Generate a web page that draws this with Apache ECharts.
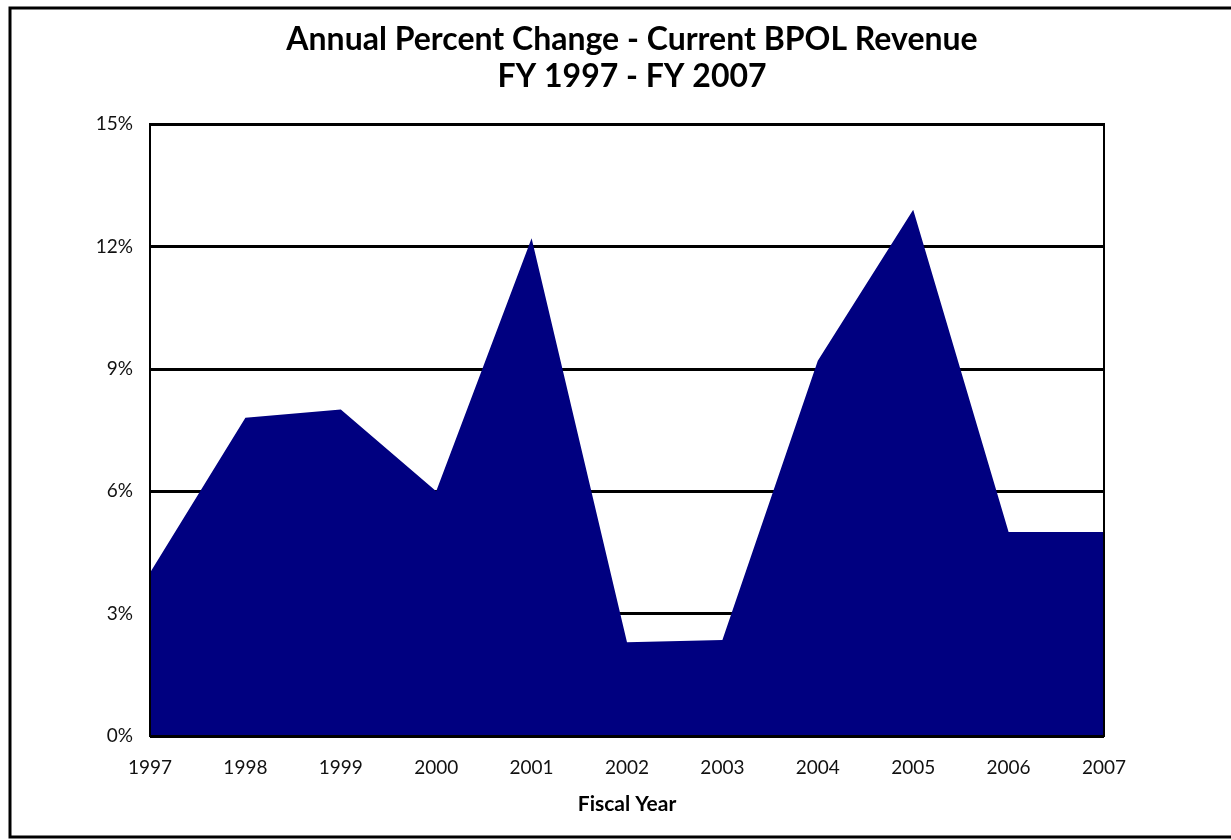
<!DOCTYPE html>
<html>
<head>
<meta charset="utf-8">
<script src="https://cdn.jsdelivr.net/npm/echarts@6/dist/echarts.min.js"></script>
<style>
  html, body { margin: 0; padding: 0; background: #fff; }
  #chart { width: 1231px; height: 840px; }
</style>
</head>
<body>
<div id="chart"></div>
<script>
var years = ['1997', '1998', '1999', '2000', '2001', '2002', '2003', '2004', '2005', '2006', '2007'];
var pctChange = [4.0, 7.8, 8.0, 6.0, 12.2, 2.3, 2.35, 9.2, 12.9, 5.0, 5.0];
var titleLines = ['Annual Percent Change - Current BPOL Revenue', 'FY 1997 - FY 2007'];

var font = 'Lato, "Open Sans", sans-serif';
var myChart = echarts.init(document.getElementById('chart'));

var option = {
    animation: false,
    backgroundColor: '#fff',
    title: {
        text: titleLines.join('\n'),
        left: 627,
        textAlign: 'center',
        top: 16,
        textStyle: {
            fontFamily: font,
            fontSize: 32,
            fontWeight: 'bold',
            color: '#000',
            lineHeight: 37
        }
    },
    graphic: [{
        type: 'rect',
        shape: { x: 10, y: 8, width: 1240, height: 829 },
        style: { fill: null, stroke: '#000', lineWidth: 3 },
        z: 10
    }],
    grid: {
        left: 150,
        right: 127,
        top: 124,
        bottom: 104,
        show: true,
        borderColor: '#000',
        borderWidth: 2,
        backgroundColor: 'transparent',
        z: 5
    },
    xAxis: {
        type: 'category',
        data: years,
        boundaryGap: false,
        name: 'Fiscal Year',
        nameLocation: 'middle',
        nameGap: 58,
        nameTextStyle: {
            fontFamily: font,
            fontSize: 21,
            fontWeight: 'bold',
            color: '#000'
        },
        axisLine: { show: false },
        axisTick: { show: false },
        axisLabel: {
            margin: 22,
            fontFamily: font,
            fontSize: 19,
            color: '#111'
        }
    },
    yAxis: {
        type: 'value',
        min: 0,
        max: 15,
        interval: 3,
        axisLine: { show: false },
        axisTick: { show: false },
        axisLabel: {
            formatter: '{value}%',
            margin: 17,
            fontFamily: font,
            fontSize: 19,
            color: '#111'
        },
        splitLine: {
            lineStyle: { color: '#000', width: 3 }
        }
    },
    series: [{
        type: 'line',
        data: pctChange,
        symbol: 'none',
        lineStyle: { width: 0 },
        areaStyle: { color: '#000080', opacity: 1 },
        z: 2
    }]
};
myChart.setOption(option);
</script>
</body>
</html>
